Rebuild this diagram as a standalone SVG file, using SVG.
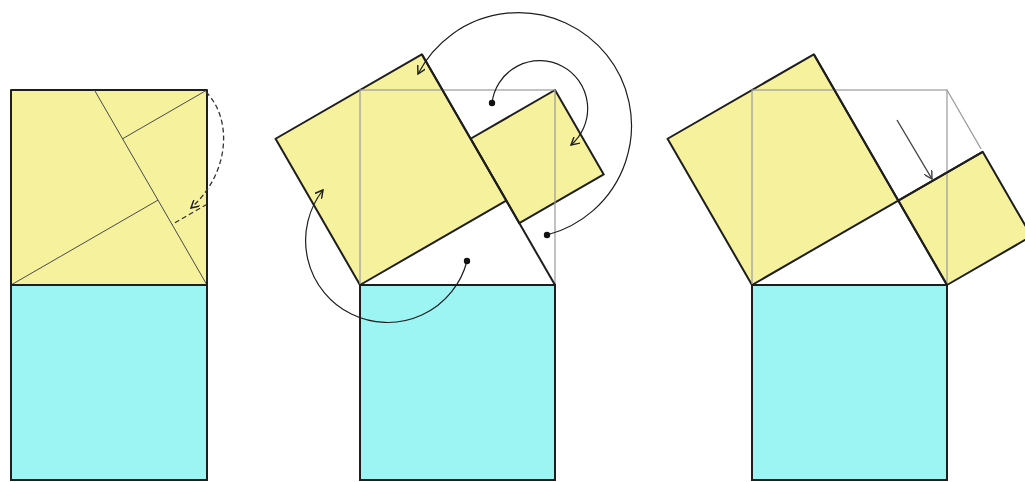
<svg xmlns="http://www.w3.org/2000/svg" width="1025" height="482" viewBox="0 0 1025 482">
<style>
.y{fill:#f6f19c;stroke:#1e1e1e;stroke-width:2;stroke-linejoin:round}
.c{fill:#9df5f3;stroke:#1e1e1e;stroke-width:2}
.g{fill:none;stroke:#9a9a9a;stroke-width:1.2}
.t{fill:none;stroke:#4a4a4a;stroke-width:1}
.k{fill:none;stroke:#1e1e1e;stroke-width:2}
.a{fill:none;stroke:#1e1e1e;stroke-width:1.2;marker-end:url(#ah)}
.d{fill:none;stroke:#333;stroke-width:1.3;stroke-dasharray:5 3}
.dot{fill:#111}
</style>
<defs>
<marker id="ah" viewBox="0 0 10 10" refX="9" refY="5" markerWidth="9" markerHeight="9" markerUnits="userSpaceOnUse" orient="auto">
<path d="M0,0 L9,5 L0,10" fill="none" stroke="#1e1e1e" stroke-width="1.6"/>
</marker>
<marker id="ah2" viewBox="0 0 10 10" refX="9" refY="5" markerWidth="9" markerHeight="9" markerUnits="userSpaceOnUse" orient="auto">
<path d="M0,0 L9,5 L0,10" fill="none" stroke="#444" stroke-width="1.6"/>
</marker>
</defs>
<rect width="1025" height="482" fill="#ffffff"/>

<g id="panel1">
<rect class="y" x="11" y="90" width="196" height="195"/>
<g id="p1-cuts">
<line class="t" x1="94.4" y1="90" x2="207" y2="285"/>
<line class="t" x1="11" y1="285" x2="158" y2="200.1"/>
<line class="t" x1="207" y1="90" x2="122.6" y2="138.75"/>
<line class="d" x1="207" y1="204.2" x2="172" y2="224.4"/>
</g>
<rect class="c" x="11" y="285" width="196" height="195"/>
<line x1="207" y1="90" x2="207" y2="285" stroke="#1e1e1e" stroke-width="2"/>
</g>

<g id="panel2">
<polygon class="y" points="555,90 603.75,174.44 519.31,223.19 470.56,138.75"/>
<polygon class="y" points="360,285 506.25,200.56 421.81,54.31 275.56,138.75"/>
<rect class="g" x="360" y="90" width="195" height="195"/>
<line class="k" x1="421.81" y1="54.31" x2="555" y2="285"/>
<rect class="c" x="360" y="285" width="195" height="195"/>
</g>

<g id="panel3">
<polygon class="y" points="752,285 898.25,200.56 813.81,54.31 667.56,138.75"/>
<polygon class="y" points="898.25,200.56 947,285 1031.44,236.25 982.69,151.81"/>
<rect class="g" x="752" y="90" width="195" height="195"/>
<line class="g" x1="947" y1="90" x2="981" y2="148.9"/>
<line class="k" x1="813.81" y1="54.31" x2="947" y2="285"/>
<line class="k" x1="898.25" y1="200.56" x2="982.69" y2="151.81"/>
<rect class="c" x="752" y="285" width="195" height="195"/>
</g>

<g id="connectors">
<path class="d" d="M206 92 C232 118 231 172 191 208" marker-end="url(#ah)"/>
<path class="a" d="M547 235 A113 113 0 1 0 418 74"/>
<path class="a" d="M492 103 A48 48 0 1 1 571 145"/>
<path class="a" d="M467 261 A82 82 0 1 1 323 190"/>
<line x1="897" y1="120" x2="932" y2="179" stroke="#444" stroke-width="1.4" marker-end="url(#ah2)"/>
<circle class="dot" cx="547" cy="235" r="3.2"/>
<circle class="dot" cx="492" cy="103" r="3.2"/>
<circle class="dot" cx="467" cy="261" r="3.2"/>
</g>
</svg>
